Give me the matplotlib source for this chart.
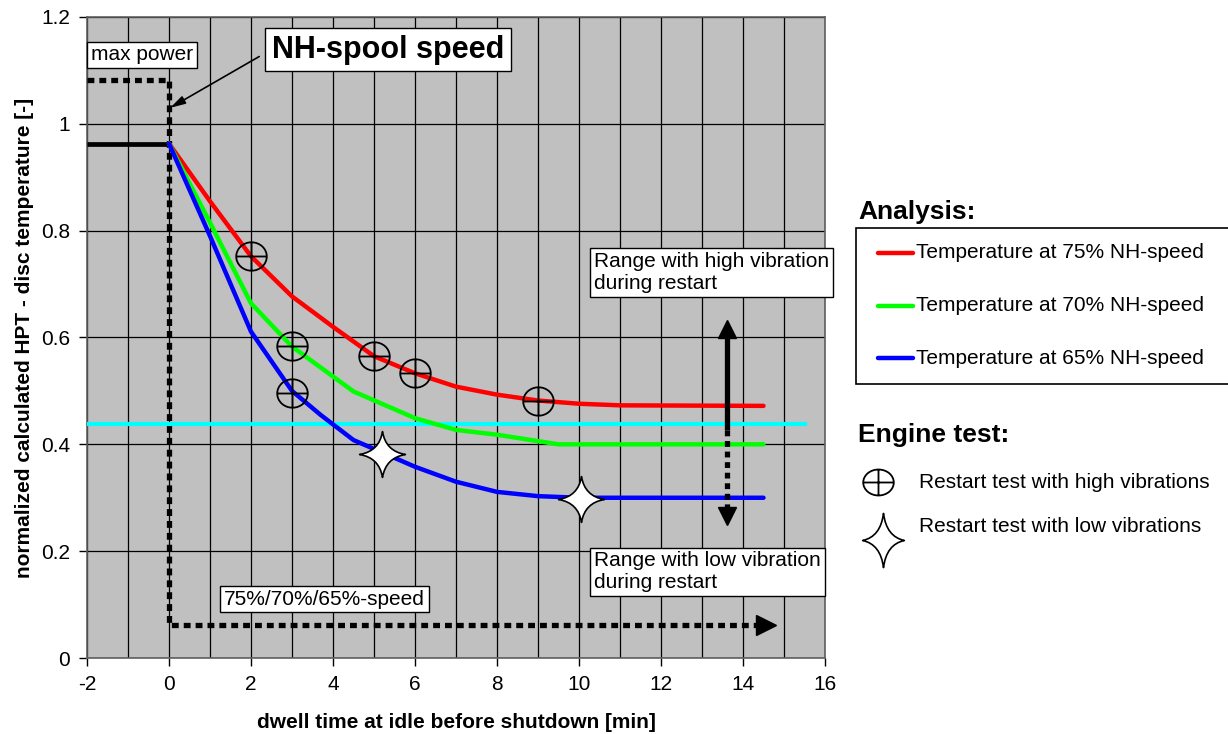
import matplotlib.pyplot as plt
from matplotlib.lines import Line2D
from matplotlib.patches import Rectangle
from matplotlib.path import Path

plt.rcParams["font.family"] = ["Liberation Sans", "DejaVu Sans"]
plt.rcParams["axes.unicode_minus"] = False

W, H = 1228, 734

# analysis: calculated disc temperature vs dwell time
t75 = [0, 1, 2, 3, 4, 5, 6, 7, 8, 9, 10, 11, 14.5]
temp75 = [0.963, 0.855, 0.752, 0.677, 0.620, 0.565, 0.533, 0.508, 0.493, 0.482, 0.476, 0.473, 0.472]
t70 = [0, 1, 2, 3, 4.5, 6, 7, 8, 9.5, 14.5]
temp70 = [0.963, 0.815, 0.664, 0.583, 0.499, 0.449, 0.427, 0.418, 0.400, 0.400]
t65 = [0, 1, 2, 3, 3.7, 4.5, 6, 7, 8, 9, 10, 14.5]
temp65 = [0.963, 0.790, 0.611, 0.500, 0.455, 0.408, 0.358, 0.330, 0.311, 0.303, 0.300, 0.300]
labels = ["Temperature at 75% NH-speed", "Temperature at 70% NH-speed",
          "Temperature at 65% NH-speed"]
colors = ["#ff0000", "#00ff00", "#0000ff"]

# vibration limit
limit_x = [-2, 15.5]
limit_y = [0.438, 0.438]

# idle temperature before shutdown
idle_x = [-2, 0]
idle_y = [0.963, 0.963]

# NH-spool speed profile (max power -> idle)
speed_x = [-2, 0, 0, 14.45]
speed_y = [1.082, 1.082, 0.062, 0.062]
speed_tip = (14.55, 0.062)

# engine tests
high_x = [2, 3, 3, 5, 6, 9]
high_y = [0.752, 0.584, 0.497, 0.566, 0.533, 0.482]
low_x = [5.2, 10.05]
low_y = [0.382, 0.297]
test_labels = ["Restart test with high vibrations", "Restart test with low vibrations"]

# range arrow
range_x = 13.6
range_mid = 0.427
range_top = 0.615
range_bot = 0.265


def circle_cross(sy=0.93):
    circ = Path.unit_circle()
    circ = Path(circ.vertices * [1.0, sy], circ.codes)
    h = Path([[-1, 0], [1, 0]], [Path.MOVETO, Path.LINETO])
    v = Path([[0, -sy], [0, sy]], [Path.MOVETO, Path.LINETO])
    return Path.make_compound_path(circ, h, v)


def star4(c=0.12, sy=1.0):
    # four pointed star with concave sides
    pts = [(0, 1), (c, c), (1, 0), (c, -c), (0, -1), (-c, -c), (-1, 0), (-c, c), (0, 1), (0, 1)]
    pts = [(x, y * sy) for x, y in pts]
    codes = [Path.MOVETO] + [Path.CURVE3, Path.CURVE3] * 4 + [Path.CLOSEPOLY]
    return Path(pts, codes)


fig = plt.figure(figsize=(W / 100, H / 100), dpi=100)
ax = fig.add_axes([87 / W, 76 / H, 738 / W, 641 / H])
ax.set_facecolor("#c0c0c0")
ax.set_xlim(-2, 16)
ax.set_ylim(0, 1.2)
ax.set_xticks(range(-2, 17, 2))
ax.set_xticks(range(-2, 17, 1), minor=True)
ax.set_yticks([0, 0.2, 0.4, 0.6, 0.8, 1.0, 1.2])
ax.set_yticklabels(["0", "0.2", "0.4", "0.6", "0.8", "1", "1.2"])
ax.grid(True, which="both", axis="x", color="black", lw=0.9)
ax.grid(True, which="major", axis="y", color="black", lw=0.9)
ax.tick_params(axis="both", which="major", direction="out", length=6, width=1,
               labelsize=15, pad=6)
ax.tick_params(axis="x", which="minor", length=0)
for s in ax.spines.values():
    s.set_color("#606060")
    s.set_linewidth(1.2)
ax.set_xlabel("dwell time at idle before shutdown [min]", fontsize=15,
              fontweight="bold", labelpad=14)
ax.set_ylabel("normalized calculated HPT - disc temperature [-]", fontsize=15,
              fontweight="bold", labelpad=5)

dot = (0, (1.3, 0.95))
ax.plot(speed_x, speed_y, color="black", lw=3.8, ls=dot, dash_capstyle="butt", zorder=3)
ax.plot(*speed_tip, marker=">", ms=15, color="black", zorder=3, clip_on=False)
ax.plot(idle_x, idle_y, color="black", lw=3.4, solid_capstyle="butt", zorder=3)

ax.plot(limit_x, limit_y, color="#00ffff", lw=3, zorder=4)
for xs, ys, c in zip([t75, t70, t65], [temp75, temp70, temp65], colors):
    ax.plot(xs, ys, color=c, lw=3.2, solid_capstyle="round", zorder=5)

ax.plot(high_x, high_y, ls="none", marker=circle_cross(), ms=22, mfc="none",
        mec="black", mew=1.3, zorder=6)
ax.plot(low_x, low_y, ls="none", marker=star4(0.14), ms=33, mfc="white",
        mec="black", mew=1.2, zorder=6)

ax.plot([range_x, range_x], [range_mid, range_top - 0.01], color="black", lw=3.8,
        solid_capstyle="butt", zorder=6)
ax.plot(range_x, range_top, marker="^", ms=13, color="black", zorder=6)
ax.plot([range_x, range_x], [range_mid, range_bot + 0.01], color="black", lw=3.8,
        ls=(0, (1.1, 0.9)), dash_capstyle="butt", zorder=6)
ax.plot(range_x, range_bot, marker="v", ms=13, color="black", zorder=6)

box = dict(boxstyle="square,pad=0.18", facecolor="white", edgecolor="black", lw=1)
ax.text(-1.9, 1.129, "max power", fontsize=15, va="center", ha="left", bbox=box, zorder=7)
ax.text(5.34, 1.139, "NH-spool speed", fontsize=22, fontweight="bold", va="center",
        ha="center", bbox=dict(boxstyle="square,pad=0.22", facecolor="white",
                               edgecolor="black", lw=1), zorder=7)
ax.annotate("", xy=(0.03, 1.03), xytext=(2.2, 1.126),
            arrowprops=dict(arrowstyle="-|>,head_length=0.9,head_width=0.25",
                            color="black", lw=1.2, shrinkA=0, shrinkB=0), zorder=7)
ax.text(10.37, 0.722, "Range with high vibration\nduring restart", fontsize=15,
        va="center", ha="left", bbox=box, zorder=7, clip_on=False)
ax.text(10.37, 0.161, "Range with low vibration\nduring restart", fontsize=15,
        va="center", ha="left", bbox=box, zorder=7)
ax.text(1.34, 0.11, "75%/70%/65%-speed", fontsize=15, va="center", ha="left",
        bbox=box, zorder=7)

# right hand legend
fig.text(858 / W, 1 - 212 / H, "Analysis:", fontsize=19, fontweight="bold", va="center")
fig.add_artist(Rectangle((856 / W, 1 - 384 / H), 400 / W, 156 / H, transform=fig.transFigure,
                         facecolor="white", edgecolor="black", lw=1.2))
for i, (lab, c) in enumerate(zip(labels, colors)):
    y = 1 - (253 + 52.5 * i) / H
    fig.add_artist(Line2D([878 / W, 913 / W], [y, y], transform=fig.transFigure,
                          color=c, lw=3.2, solid_capstyle="round"))
    fig.text(916 / W, y, lab, fontsize=15, va="center")

fig.text(858 / W, 1 - 435 / H, "Engine test:", fontsize=19, fontweight="bold", va="center")
fig.add_artist(Line2D([878 / W], [1 - 482 / H], transform=fig.transFigure, ls="none",
                      marker=circle_cross(0.85), ms=22, mfc="none", mec="black", mew=1.3))
fig.add_artist(Line2D([883 / W], [1 - 540 / H], transform=fig.transFigure, ls="none",
                      marker=star4(0.14, 1.3), ms=39, mfc="white", mec="black", mew=1.2))
fig.text(919 / W, 1 - 483 / H, test_labels[0], fontsize=15, va="center")
fig.text(919 / W, 1 - 527 / H, test_labels[1], fontsize=15, va="center")

fig.savefig("out.png", dpi=100)
